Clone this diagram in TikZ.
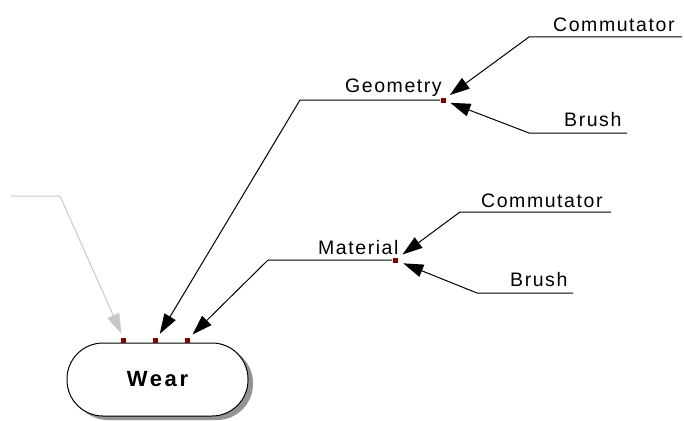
\documentclass[tikz,border=0pt]{standalone}
\usepackage{fontspec}
\setmainfont{Liberation Sans}
\usetikzlibrary{arrows.meta,shadows}
\definecolor{portred}{HTML}{800000}
\definecolor{lightlink}{HTML}{C8C8C8}
\begin{document}
\begin{tikzpicture}[x=1pt,y=-1pt,
  lbl/.style={inner sep=0pt,anchor=base west,font=\fontsize{19.5}{21}\selectfont\addfontfeature{LetterSpace=8}},
  port/.style={fill=portred,draw=none,minimum size=5pt,inner sep=0pt},
  link/.style={line width=1pt,-{Triangle[length=20pt,width=13pt]}},
  glink/.style={link,draw=lightlink},
  wearbox/.style={draw=black,line width=1pt,fill=white,rounded corners=36pt,
    minimum width=181pt,minimum height=73pt,inner sep=0pt,
    drop shadow={shadow xshift=5pt,shadow yshift=-4pt,fill=gray!85,opacity=1},
    font=\fontsize{22}{24}\selectfont\bfseries\addfontfeature{LetterSpace=12}}]
\useasboundingbox (0,0) rectangle (684,420);

% main node
\node[wearbox] (wear) at (157.5,379.5) {Wear};
\node[port] (p1) at (123,340) {};
\node[port] (p2) at (155,340) {};
\node[port] (p3) at (187,340) {};

% junctions
\node[port] (g) at (443,100) {};
\node[port] (m) at (395,260) {};

% labels
\node[lbl] (lgeo) at (345,92) {Geometry};
\node[lbl] (lmat) at (318,254) {Material};
\node[lbl] (lc1) at (553,31) {Commutator};
\node[lbl] (lb1) at (564,126) {Brush};
\node[lbl] (lc2) at (481,207) {Commutator};
\node[lbl] (lb2) at (510,286) {Brush};

% corner coordinates
\coordinate (gk) at (300,100);
\coordinate (mk) at (268,260);
\coordinate (x0) at (11,196);
\coordinate (xk) at (60,196);
\coordinate (c1e) at (682,37);
\coordinate (c1k) at (529,37);
\coordinate (b1e) at (627,133);
\coordinate (b1k) at (529,133);
\coordinate (c2e) at (611,212);
\coordinate (c2k) at (460,212);
\coordinate (b2e) at (573,293);
\coordinate (b2k) at (477,293);

% links
\draw[glink,shorten >=4pt] (x0) -- (xk) -- (p1.north);
\draw[link,shorten >=4pt] (g.west) -- (gk) -- (p2.north east);
\draw[link,shorten >=4pt] (m.west) -- (mk) -- (p3.north east);
\draw[link,shorten >=5pt] (c1e) -- (c1k) -- (g);
\draw[link,shorten >=5pt] (b1e) -- (b1k) -- (g);
\draw[link,shorten >=6pt] (c2e) -- (c2k) -- (m);
\draw[link,shorten >=6pt] (b2e) -- (b2k) -- (m);

% redraw ports on top
\node[port] at (g) {};
\node[port] at (m) {};
\end{tikzpicture}
\end{document}
